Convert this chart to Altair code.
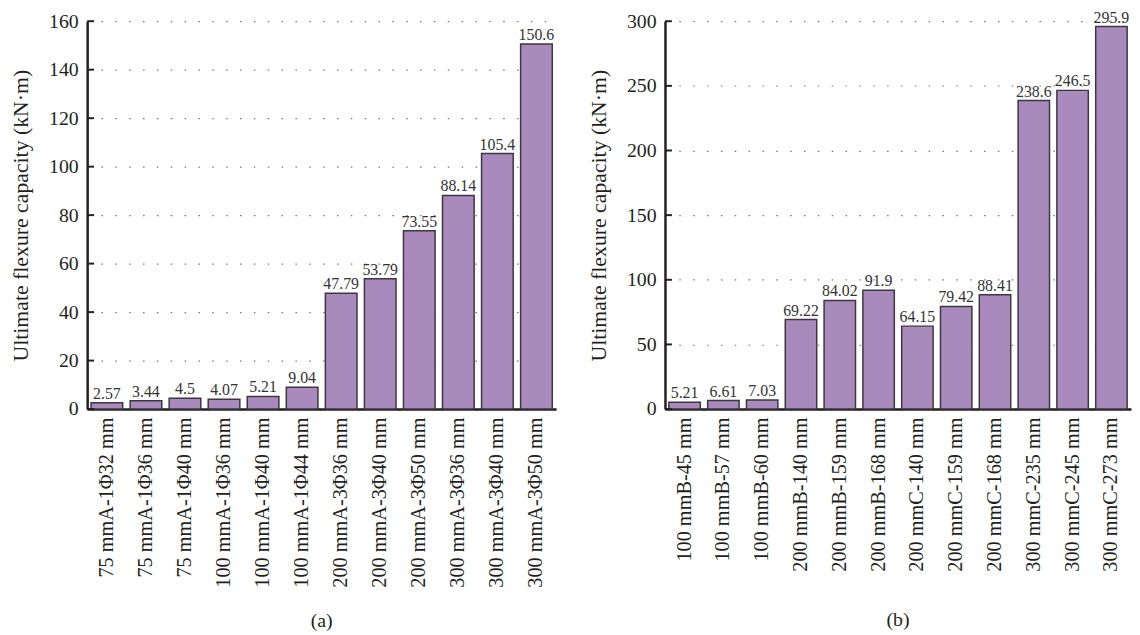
import altair as alt
import pandas as pd

FONT = "Liberation Serif"
INK = "#231f20"

cats_a = ["75 mmA-1Φ32 mm", "75 mmA-1Φ36 mm", "75 mmA-1Φ40 mm",
          "100 mmA-1Φ36 mm", "100 mmA-1Φ40 mm", "100 mmA-1Φ44 mm",
          "200 mmA-3Φ36 mm", "200 mmA-3Φ40 mm", "200 mmA-3Φ50 mm",
          "300 mmA-3Φ36 mm", "300 mmA-3Φ40 mm", "300 mmA-3Φ50 mm"]
vals_a = [2.57, 3.44, 4.5, 4.07, 5.21, 9.04, 47.79, 53.79, 73.55, 88.14, 105.4, 150.6]
ticks_a = [0, 20, 40, 60, 80, 100, 120, 140, 160]

cats_b = ["100 mmB-45 mm", "100 mmB-57 mm", "100 mmB-60 mm",
          "200 mmB-140 mm", "200 mmB-159 mm", "200 mmB-168 mm",
          "200 mmC-140 mm", "200 mmC-159 mm", "200 mmC-168 mm",
          "300 mmC-235 mm", "300 mmC-245 mm", "300 mmC-273 mm"]
vals_b = [5.21, 6.61, 7.03, 69.22, 84.02, 91.9, 64.15, 79.42, 88.41, 238.6, 246.5, 295.9]
ticks_b = [0, 50, 100, 150, 200, 250, 300]

y_title = "Ultimate flexure capacity (kN·m)"


def panel(cats, vals, ticks, caption, width, cap_offset):
    df = pd.DataFrame({"cat": cats, "val": vals, "lbl": [str(v) for v in vals]})
    tdf = pd.DataFrame({"t": ticks})
    x = alt.X("cat:N", sort=cats, title=None,
              scale=alt.Scale(paddingInner=0.19, paddingOuter=0.1),
              axis=alt.Axis(labelAngle=270, labelFont=FONT, labelFontSize=20.5,
                            labelColor=INK, ticks=False, domainColor=INK,
                            domainWidth=2.5, labelPadding=8, grid=False))
    y = alt.Y("val:Q",
              scale=alt.Scale(domain=[0, ticks[-1]], nice=False),
              axis=alt.Axis(values=ticks, title=y_title, grid=True,
                            gridDash=[1.5, 12.5], gridColor="#777", gridWidth=1.2,
                            ticks=False, domainColor=INK, domainWidth=2.5,
                            labelFont=FONT, labelFontSize=20, labelColor=INK,
                            labelPadding=9, titleFont=FONT, titleFontSize=22,
                            titleFontWeight="normal", titleColor=INK,
                            titlePadding=16))
    bars = alt.Chart(df).mark_bar(fill="#a98abd", stroke="#3d363f",
                                  strokeWidth=1.5).encode(x=x, y=y)
    text = alt.Chart(df).mark_text(baseline="bottom", dy=-1, font=FONT,
                                   fontSize=16, color="#333333").encode(
        x=alt.X("cat:N", sort=cats), y=alt.Y("val:Q"), text="lbl:N")
    tk = alt.Chart(tdf).mark_rule(color=INK, strokeWidth=2).encode(
        y=alt.Y("t:Q"), x=alt.value(0), x2=alt.value(7))
    return alt.layer(bars, text, tk).properties(
        width=width, height=392,
        title=alt.TitleParams(text=caption, orient="bottom", font=FONT,
                              fontSize=20, fontWeight="normal", color=INK,
                              frame="group", anchor="middle", offset=cap_offset))


chart = alt.hconcat(
    panel(cats_a, vals_a, ticks_a, "(a)", 474, 24),
    panel(cats_b, vals_b, ticks_b, "(b)", 471, 39),
    spacing=30,
).properties(
    padding={"left": 1, "top": -3, "right": 0, "bottom": 0},
    background="white",
).configure_view(stroke="transparent")

chart.save("out.html", embed_options={"renderer": "svg", "actions": False})
